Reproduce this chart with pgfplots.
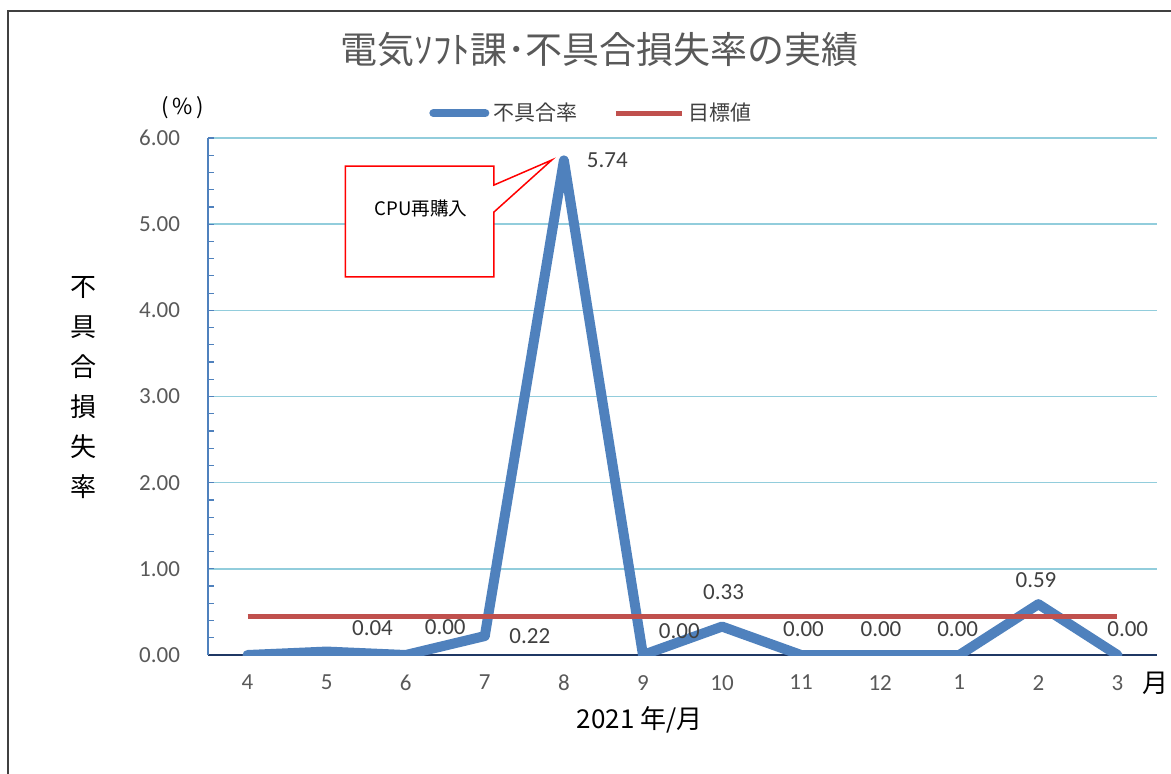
\documentclass[border=0pt]{standalone}
\usepackage{pgfplots}
\usepackage{pgfplotstable}
\pgfplotsset{compat=1.18}
\usepackage{fontspec}
\setmainfont{Carlito}
\newfontfamily\jp{Noto Sans CJK JP}
\definecolor{lblue}{HTML}{4F81BD}
\definecolor{lred}{HTML}{C0504D}
\definecolor{gridc}{HTML}{92CDDC}
\definecolor{tickc}{HTML}{595959}
\definecolor{lblc}{HTML}{404040}
\definecolor{navy}{HTML}{1F3864}

\pgfplotstableread{
x y
0 0.00
1 0.04
2 0.00
3 0.22
4 5.74
5 0.00
6 0.33
7 0.00
8 0.00
9 0.00
10 0.59
11 0.00
}\ratedata
\pgfplotstableread{
x y
0 0.45
11 0.45
}\targetdata

\begin{document}
\begin{tikzpicture}[x=1pt,y=1pt]
\useasboundingbox (0,0) rectangle (585.5,386.5);
\draw[line width=1.4pt, color=lblc] (4,-20) -- (4,381) -- (620,381);
\begin{axis}[
  at={(104pt,59pt)}, anchor=south west,
  scale only axis, width=474.5pt, height=258.5pt,
  xmin=-0.5, xmax=11.5, ymin=0, ymax=6,
  axis x line*=bottom, axis y line*=left,
  x axis line style={navy, line width=0.8pt, -},
  y axis line style={lblue, line width=0.8pt, -},
  xtick={0,...,11}, xticklabels={4,5,6,7,8,9,10,11,12,1,2,3},
  xtick style={draw=none},
  ytick={0,1,...,6},
  minor y tick num=4,
  tick align=inside,
  ytick style={lblue, line width=0.6pt},
  major tick length=3pt, minor tick length=3pt,
  ymajorgrids, grid style={gridc, line width=0.8pt},
  /pgf/number format/assume math mode=true,
  ticklabel style={font=\fontsize{11.5}{13}\selectfont, text=tickc},
  yticklabel style={/pgf/number format/fixed, /pgf/number format/fixed zerofill, /pgf/number format/precision=2, xshift=-10.5pt},
  xticklabel style={yshift=-6.5pt},
  title={電気ｿﾌﾄ課･不具合損失率の実績},
  title style={at={(0.413,1.147)}, anchor=center, font=\jp\fontsize{18.5}{22}\selectfont, text=tickc},
  xlabel={2021 年/月},
  xlabel style={at={(0.455,-0.126)}, anchor=center, font=\jp\fontsize{13}{15}\selectfont, text=black},
  ylabel={不\\具\\合\\損\\失\\率},
  ylabel style={rotate=-90, at={(-0.1317,0.518)}, anchor=center, align=center, font=\jp\fontsize{13}{20}\selectfont, text=black},
  legend style={at={(0.405,1.048)}, anchor=center, draw=none, fill=none, inner sep=0pt,
    font=\jp\fontsize{10.5}{13}\selectfont, text=lblc,
    legend columns=2, /tikz/every even column/.append style={column sep=16pt}},
  legend cell align=left,
]
\filldraw[fill=white, draw=red, line width=0.75pt]
  (axis cs:1.236,5.675) -- (axis cs:3.116,5.675) -- (axis cs:3.116,5.454) --
  (axis cs:3.848,5.745) -- (axis cs:3.116,5.141) -- (axis cs:3.116,4.387) --
  (axis cs:1.236,4.387) -- cycle;
\node[font=\jp\fontsize{9.3}{11}\selectfont, text=black] at (axis cs:2.195,5.187) {CPU再購入};

\addplot[lblue, line width=5pt, line join=round, line cap=round, mark=none,
  legend image code/.code={\draw[lblue, line width=4pt, line cap=round] (0pt,0pt) -- (26pt,0pt);}]
  table[x=x,y=y] {\ratedata};
\addlegendentry{不具合率}
\addplot[lred, line width=2.5pt, mark=none,
  legend image code/.code={\draw[lred, line width=2.5pt] (0pt,0pt) -- (33pt,0pt);}]
  table[x=x,y=y] {\targetdata};
\addlegendentry{目標値}

\begin{scope}[every node/.style={font=\fontsize{11.5}{13}\selectfont, text=lblc}]
\node at (axis cs:1.58,0.31) {0.04};
\node at (axis cs:2.50,0.32) {0.00};
\node at (axis cs:3.57,0.22) {0.22};
\node at (axis cs:4.55,5.74) {5.74};
\node at (axis cs:5.46,0.28) {0.00};
\node at (axis cs:6.02,0.73) {0.33};
\node at (axis cs:7.03,0.30) {0.00};
\node at (axis cs:8.01,0.30) {0.00};
\node at (axis cs:8.98,0.30) {0.00};
\node at (axis cs:9.97,0.87) {0.59};
\node at (axis cs:11.13,0.30) {0.00};
\end{scope}
\end{axis}
\node[font=\jp\fontsize{11}{13}\selectfont, text=black] at (91.5,332.5) {(\,\%\,)};
\node[font=\jp\fontsize{13}{15}\selectfont, text=black] at (577.5,45) {月};
\end{tikzpicture}
\end{document}
